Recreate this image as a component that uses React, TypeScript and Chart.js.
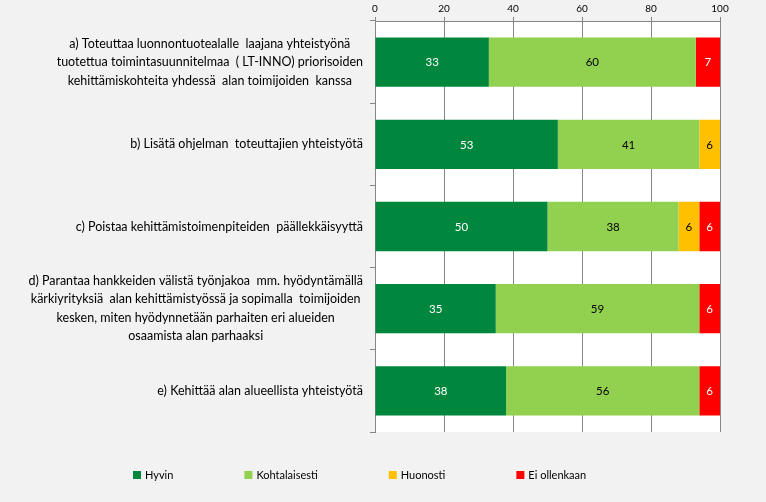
import React, { useEffect, useRef } from "react";
import { Chart, registerables } from "chart.js";

Chart.register(...registerables);

const categories: string[][] = [
  [
    "a) Toteuttaa luonnontuotealalle  laajana yhteistyönä",
    "tuotettua toimintasuunnitelmaa  ( LT-INNO) priorisoiden",
    "kehittämiskohteita yhdessä  alan toimijoiden  kanssa",
  ],
  ["b) Lisätä ohjelman  toteuttajien yhteistyötä"],
  ["c) Poistaa kehittämistoimenpiteiden  päällekkäisyyttä"],
  [
    "d) Parantaa hankkeiden välistä työnjakoa  mm. hyödyntämällä",
    "kärkiyrityksiä  alan kehittämistyössä ja sopimalla  toimijoiden",
    "kesken, miten hyödynnetään parhaiten eri alueiden",
    "osaamista alan parhaaksi",
  ],
  ["e) Kehittää alan alueellista yhteistyötä"],
];

const seriesNames = ["Hyvin", "Kohtalaisesti", "Huonosti", "Ei ollenkaan"];
const hyvin = [33, 53, 50, 35, 38];
const kohtalaisesti = [60, 41, 38, 59, 56];
const huonosti = [0, 6, 6, 0, 0];
const eiOllenkaan = [7, 0, 6, 6, 6];
const xTickValues = [0, 20, 40, 60, 80, 100];

const seriesColors = ["#00873D", "#92D050", "#FFC000", "#FF0000"];
const valueLabelColors = ["#FFFFFF", "#000000", "#000000", "#FFFFFF"];

const FONT = "Lato, 'Open Sans', sans-serif";
const GRID = "#868686";

const backgroundPlugin = {
  id: "bgPlugin",
  beforeDraw(chart: any) {
    const { ctx, chartArea } = chart;
    ctx.save();
    ctx.fillStyle = "#F2F2F2";
    ctx.fillRect(0, 0, chart.width, chart.height);
    ctx.fillStyle = "#FFFFFF";
    ctx.fillRect(chartArea.left, chartArea.top, chartArea.right - chartArea.left, chartArea.bottom - chartArea.top);
    ctx.restore();
  },
};

const categoryLabelPlugin = {
  id: "catLabels",
  afterDraw(chart: any) {
    const { ctx } = chart;
    const yScale = chart.scales.y;
    const rightEdge = chart.chartArea.left - 12;
    const lineH = 18.5;
    ctx.save();
    ctx.font = `12.5px ${FONT}`;
    ctx.fillStyle = "#000000";
    ctx.textAlign = "center";
    ctx.textBaseline = "middle";
    categories.forEach((lines, i) => {
      const yc = yScale.getPixelForTick(i);
      const maxW = Math.max(...lines.map((l) => ctx.measureText(l).width));
      const cx = rightEdge - maxW / 2;
      const y0 = yc - ((lines.length - 1) * lineH) / 2;
      lines.forEach((l, j) => ctx.fillText(l, cx, y0 + j * lineH));
    });
    ctx.restore();
  },
};

const valueLabelPlugin = {
  id: "valueLabels",
  afterDatasetsDraw(chart: any) {
    const { ctx } = chart;
    ctx.save();
    ctx.font = `11.5px ${FONT}`;
    ctx.textAlign = "center";
    ctx.textBaseline = "middle";
    chart.data.datasets.forEach((ds: any, di: number) => {
      const meta = chart.getDatasetMeta(di);
      meta.data.forEach((bar: any, i: number) => {
        const v = ds.data[i];
        if (!v) return;
        const { x, y, base } = bar.getProps(["x", "y", "base"], true);
        ctx.fillStyle = valueLabelColors[di];
        ctx.fillText(String(v), (x + base) / 2, y + 0.5);
      });
    });
    ctx.restore();
  },
};

const legendPlugin = {
  id: "customLegend",
  afterDraw(chart: any) {
    const { ctx } = chart;
    const startX = 133;
    const y = 475;
    const box = 8;
    const gapText = 4;
    const gapItems = 71;
    ctx.save();
    ctx.font = `11px ${FONT}`;
    ctx.textBaseline = "middle";
    ctx.textAlign = "left";
    let x = startX;
    chart.data.datasets.forEach((ds: any) => {
      ctx.fillStyle = ds.backgroundColor;
      ctx.fillRect(x, y - box / 2, box, box);
      ctx.fillStyle = "#000000";
      const tx = x + box + gapText;
      ctx.fillText(ds.label, tx, y);
      x = tx + ctx.measureText(ds.label).width + gapItems;
    });
    ctx.restore();
  },
};

export default function App() {
  const canvasRef = useRef<HTMLCanvasElement>(null);

  useEffect(() => {
    const seriesData = [hyvin, kohtalaisesti, huonosti, eiOllenkaan];
    const chart = new Chart(canvasRef.current as HTMLCanvasElement, {
      type: "bar",
      data: {
        labels: categories.map((c) => c.join(" ")),
        datasets: seriesNames.map((name, i) => ({
          label: name,
          data: seriesData[i],
          backgroundColor: seriesColors[i],
          borderWidth: 0,
          categoryPercentage: 0.6,
          barPercentage: 1,
        })),
      },
      options: {
        indexAxis: "y",
        responsive: false,
        animation: false,
        layout: { padding: { left: 0, right: 46, top: 0, bottom: 70 } },
        plugins: {
          legend: { display: false },
          tooltip: { enabled: false },
        },
        scales: {
          x: {
            type: "linear",
            position: "top",
            stacked: true,
            min: 0,
            max: 100,
            afterBuildTicks(scale: any) {
              scale.ticks = xTickValues.map((v) => ({ value: v }));
            },
            afterFit(scale: any) {
              scale.height = 21;
            },
            ticks: {
              font: { family: FONT, size: 10 },
              color: "#000000",
              padding: 2,
            },
            grid: {
              color: GRID,
              lineWidth: 1,
              tickLength: 4,
              drawTicks: true,
            },
            border: { display: true, color: GRID, width: 1 },
          },
          y: {
            type: "category",
            stacked: true,
            afterFit(scale: any) {
              scale.width = 375;
            },
            ticks: { display: false },
            grid: {
              offset: true,
              drawOnChartArea: false,
              color: GRID,
              tickLength: 5,
              drawTicks: true,
            },
            border: { display: true, color: GRID, width: 1 },
          },
        },
      },
      plugins: [backgroundPlugin, categoryLabelPlugin, valueLabelPlugin, legendPlugin],
    } as any);
    return () => chart.destroy();
  }, []);

  return (
    <div style={{ position: "absolute", left: 0, top: 0, width: 766, height: 502, background: "#F2F2F2" }}>
      <canvas ref={canvasRef} width={766} height={502} style={{ display: "block", width: 766, height: 502 }} />
    </div>
  );
}
